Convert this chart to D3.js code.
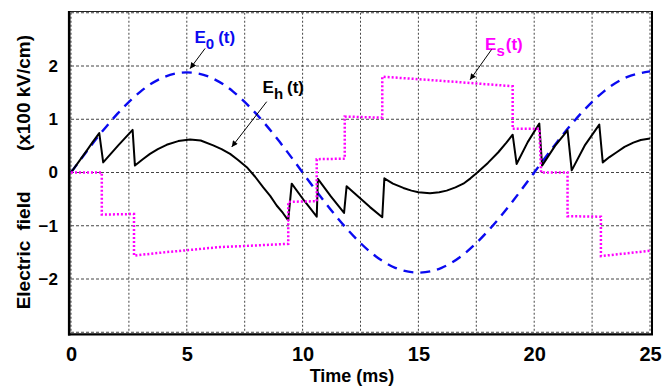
<!DOCTYPE html>
<html>
<head>
<meta charset="utf-8">
<script src="https://cdn.jsdelivr.net/npm/d3@7"></script>
<style>
  body { margin: 0; background: #fff; }
  text { font-family: "Liberation Sans", Arial, sans-serif; font-weight: bold; }
</style>
</head>
<body>
<div id="chart"></div>
<script>
// values
const e0Times = [0, 1, 2, 3, 4, 5, 6, 7, 8, 9, 10, 11, 12, 13, 14, 15, 16, 17, 18, 19, 20, 21, 22, 23, 24, 25];
const e0Values = [0, 0.58, 1.10, 1.52, 1.79, 1.88, 1.79, 1.52, 1.10, 0.58, 0, -0.58, -1.10, -1.52, -1.79, -1.88,
  -1.79, -1.52, -1.10, -0.58, 0, 0.58, 1.10, 1.52, 1.79, 1.90];

const ehTimes = [0, 0.3, 0.68, 0.95, 1.22, 1.39, 2.04, 2.66, 2.76, 3.1, 3.41, 3.75, 4.13, 4.63, 5.14, 5.6, 6.14,
  6.5, 6.87, 7.2, 7.59, 7.95, 8.3, 8.6, 8.88, 9.15, 9.38, 9.53, 10.07, 10.61, 10.66, 11.22, 11.79, 11.9, 12.91,
  13.44, 13.53, 13.9, 14.35, 14.7, 15.0, 15.5, 15.9, 16.22, 16.6, 16.94, 17.25, 17.52, 18.0, 18.45, 18.8, 19.07,
  19.24, 19.72, 20.22, 20.34, 20.9, 21.44, 21.62, 22.2, 22.81, 22.96, 23.25, 23.56, 23.9, 24.28, 24.6, 25];
const ehValues = [0, 0.18, 0.41, 0.58, 0.74, 0.19, 0.51, 0.80, 0.13, 0.25, 0.35, 0.44, 0.52, 0.59, 0.62, 0.60, 0.51,
  0.44, 0.35, 0.24, 0.10, -0.08, -0.28, -0.44, -0.62, -0.76, -0.90, -0.21, -0.53, -0.83, -0.12, -0.45, -0.76, -0.26, -0.65,
  -0.84, -0.11, -0.21, -0.29, -0.34, -0.37, -0.39, -0.37, -0.34, -0.28, -0.21, -0.11, -0.01, 0.18, 0.38, 0.56, 0.71,
  0.16, 0.57, 0.92, 0.13, 0.50, 0.79, 0.04, 0.52, 0.90, 0.19, 0.29, 0.38, 0.48, 0.56, 0.61, 0.64];

const esTimes = [0, 1.33, 1.33, 2.72, 2.72, 4, 5, 6.43, 7.5, 9.38, 9.38, 10.61, 10.61, 11.82, 11.82, 13.44, 13.44,
  16.36, 19.07, 19.07, 20.22, 20.3, 21.44, 21.44, 22.88, 22.88, 25];
const esValues = [0, 0, -0.79, -0.78, -1.56, -1.50, -1.46, -1.40, -1.38, -1.34, -0.55, -0.54, 0.25, 0.26, 1.05, 1.03, 1.80,
  1.71, 1.62, 0.82, 0.82, 0.0, 0.0, -0.82, -0.83, -1.57, -1.47];

const xTicks = [0, 5, 10, 15, 20, 25];
const yTicks = [-2, -1, 0, 1, 2];
const xGrid = [0, 2.5, 5, 7.5, 10, 12.5, 15, 17.5, 20, 22.5, 25];
const yGrid = [-3, -2, -1, 0, 1, 2, 3];

const width = 663;
const height = 389;

const svg = d3.select('#chart').append('svg')
  .attr('width', width)
  .attr('height', height);

const x = d3.scaleLinear().domain([0, 25]).range([71, 650]);
const y = d3.scaleLinear().domain([-3, 3]).range([332.25, 12.75]);

// grid
svg.append('g').selectAll('line').data(xGrid).join('line')
  .attr('x1', d => x(d)).attr('x2', d => x(d))
  .attr('y1', y(3)).attr('y2', y(-3))
  .attr('stroke', '#444').attr('stroke-width', 1).attr('stroke-dasharray', '2,2');
svg.append('g').selectAll('line').data(yGrid).join('line')
  .attr('x1', x(0)).attr('x2', x(25))
  .attr('y1', d => y(d)).attr('y2', d => y(d))
  .attr('stroke', '#444').attr('stroke-width', 1).attr('stroke-dasharray', '3,2');

// frame
svg.append('line').attr('x1', 69).attr('x2', 652).attr('y1', 11.5).attr('y2', 11.5)
  .attr('stroke', '#222').attr('stroke-width', 1);
svg.append('line').attr('x1', 652).attr('x2', 652).attr('y1', 11).attr('y2', 335)
  .attr('stroke', '#000').attr('stroke-width', 2);
svg.append('line').attr('x1', 69.2).attr('x2', 69.2).attr('y1', 11).attr('y2', 335.5)
  .attr('stroke', '#000').attr('stroke-width', 2.6);
svg.append('line').attr('x1', 68).attr('x2', 653).attr('y1', 334.4).attr('y2', 334.4)
  .attr('stroke', '#000').attr('stroke-width', 2.4);

// axes (labels only)
const xAxis = d3.axisBottom(x).tickValues(xTicks).tickSize(0).tickPadding(15).tickFormat(d3.format('d'));
const yAxis = d3.axisLeft(y).tickValues(yTicks).tickSize(0).tickPadding(13).tickFormat(d3.format('d'));

const gx = svg.append('g').attr('transform', 'translate(0,' + y(-3) + ')').call(xAxis);
gx.select('.domain').remove();
gx.selectAll('text').attr('font-size', 20).attr('font-family', null).attr('fill', '#000');

const gy = svg.append('g').attr('transform', 'translate(' + x(0) + ',0)').call(yAxis);
gy.select('.domain').remove();
gy.selectAll('text').attr('font-size', 17).attr('font-family', null).attr('fill', '#000');

// axis titles
svg.append('text')
  .attr('x', 352).attr('y', 382)
  .attr('text-anchor', 'middle')
  .attr('font-size', 18)
  .text('Time (ms)');

const yTitle = [['Electric', 275], ['field', 211], ['(x100 kV/cm)', 93]];
yTitle.forEach(([s, cy]) => {
  svg.append('text')
    .attr('transform', 'translate(30,' + cy + ') rotate(-90)')
    .attr('text-anchor', 'middle')
    .attr('font-size', 19)
    .text(s);
});

// series
const line = d3.line().x(d => x(d[0])).y(d => y(d[1]));

svg.append('path')
  .datum(d3.zip(e0Times, e0Values))
  .attr('d', line.curve(d3.curveNatural))
  .attr('fill', 'none').attr('stroke', '#0a0af0').attr('stroke-width', 2.4)
  .attr('stroke-dasharray', '10,7');

svg.append('path')
  .datum(d3.zip(ehTimes, ehValues))
  .attr('d', line.curve(d3.curveLinear))
  .attr('fill', 'none').attr('stroke', '#000').attr('stroke-width', 2)
  .attr('stroke-linejoin', 'round');

svg.append('path')
  .datum(d3.zip(esTimes, esValues))
  .attr('d', line.curve(d3.curveLinear))
  .attr('fill', 'none').attr('stroke', '#ff00ff').attr('stroke-width', 2.5)
  .attr('stroke-dasharray', '2,2');

// annotations
svg.append('defs').append('marker')
  .attr('id', 'arrow')
  .attr('viewBox', '0 0 10 10')
  .attr('refX', 10).attr('refY', 5)
  .attr('markerWidth', 7).attr('markerHeight', 6)
  .attr('markerUnits', 'userSpaceOnUse')
  .attr('orient', 'auto')
  .append('path').attr('d', 'M0,0 L10,5 L0,10 z').attr('fill', '#000');

const notes = [
  { sub: '0', color: '#0a0af0', t: 5.33, v: 2.44, from: [5.79, 2.33], to: [5.14, 1.95], gap: 4 },
  { sub: 'h', color: '#000', t: 8.27, v: 1.49, from: [8.45, 1.33], to: [6.94, 0.48], gap: 4 },
  { sub: 's', color: '#ff00ff', t: 17.88, v: 2.3, from: [18.16, 2.31], to: [17.23, 1.74], gap: 1 }
];

notes.forEach(n => {
  const t = svg.append('text')
    .attr('x', x(n.t)).attr('y', y(n.v))
    .attr('fill', n.color)
    .attr('font-size', 17);
  t.append('tspan').text('E');
  t.append('tspan').attr('dy', 6).attr('font-size', 15).text(n.sub);
  t.append('tspan').attr('dy', -6).attr('dx', n.gap).text('(t)');

  svg.append('line')
    .attr('x1', x(n.from[0])).attr('y1', y(n.from[1]))
    .attr('x2', x(n.to[0])).attr('y2', y(n.to[1]))
    .attr('stroke', '#000').attr('stroke-width', 1)
    .attr('marker-end', 'url(#arrow)');
});
</script>
</body>
</html>
